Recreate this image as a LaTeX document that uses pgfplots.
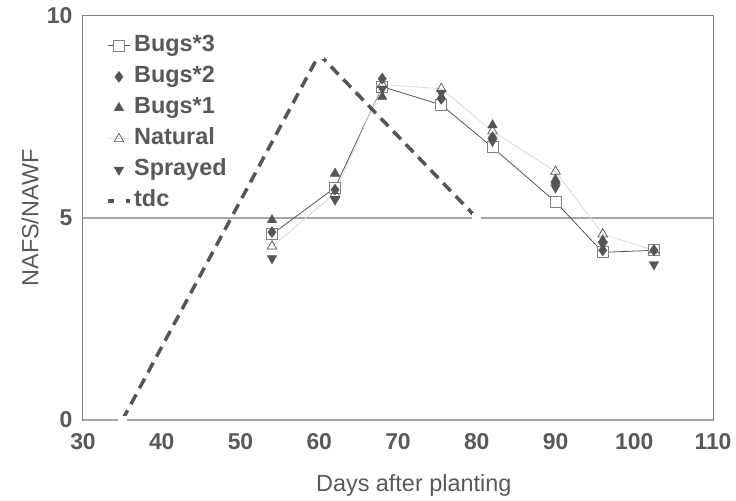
\documentclass[border=0pt]{standalone}
\usepackage{fontspec}
\setmainfont{Liberation Sans}
\usepackage{pgfplots}
\pgfplotsset{compat=1.18}

\definecolor{txt}{RGB}{89,89,89}
\definecolor{mk}{RGB}{85,85,85}
\definecolor{frame}{RGB}{128,128,128}
\definecolor{refl}{RGB}{166,166,166}
\definecolor{lightl}{RGB}{218,218,218}

\begin{document}
\begin{tikzpicture}
\path[use as bounding box] (-83bp,-81bp) rectangle (653bp,420bp);
\begin{axis}[
  at={(0,0)}, anchor=south west,
  scale only axis, width=630bp, height=404bp,
  xmin=30, xmax=110, ymin=0, ymax=10,
  xtick={30,40,...,110}, ytick={0,5,10},
  major tick length=0pt,
  axis line style={frame, line width=1bp},
  clip=false,
  tick label style={font=\bfseries\fontsize{23}{26}\selectfont, text=txt,
    /pgf/number format/assume math mode=true},
  xticklabel style={anchor=center, yshift=-22bp},
  yticklabel style={anchor=east, xshift=-7bp},
  every axis x label/.style={at={(axis description cs:0.525,-0.161)}, anchor=center,
    font=\fontsize{23.5}{26}\selectfont, text=txt},
  every axis y label/.style={at={(axis description cs:-0.084,0.5)}, anchor=center,
    rotate=90, font=\fontsize{23.5}{26}\selectfont, text=txt},
  xlabel={Days after planting}, ylabel={NAFS/NAWF},
  legend cell align=left,
  legend image code/.code={\draw[mark repeat=2,mark phase=2,#1]
    plot coordinates {(0bp,0bp)(11bp,0bp)(22bp,0bp)};},
  legend style={draw=none, fill=none, inner sep=0pt,
    at={(axis description cs:0.0365,0.96)}, anchor=north west,
    nodes={text height=17bp, text depth=5bp, inner sep=2.5bp},
    font=\bfseries\fontsize{23.5}{26}\selectfont, text=txt, row sep=4bp},
]
% reference lines at 0 and 5
\addplot[refl, line width=2bp, forget plot] coordinates {(30,0)(110,0)};
\addplot[refl, line width=2bp, forget plot] coordinates {(30,5)(110,5)};

% Bugs*3
\addplot[mk, line width=0.8bp, mark=square*, mark size=5.5bp,
  mark options={fill=white, draw=frame, line width=0.8bp}] coordinates {
  (54,4.6)(62,5.75)(68,8.25)(75.5,7.8)(82,6.75)(90,5.4)(96,4.15)(102.5,4.2)
};
\addlegendentry{Bugs*3}
% Bugs*2
\addplot[only marks, mk, mark=diamond*, mark size=5.5bp,
  mark options={fill=mk, draw=mk}] coordinates {
  (54,4.65)(62,5.7)(68,8.45)(75.5,7.95)(82,7.0)(90,5.85)(96,4.2)(102.5,4.2)
};
\addlegendentry{Bugs*2}
% Bugs*1
\addplot[only marks, mk, mark=triangle*, mark size=5.5bp,
  mark options={fill=mk, draw=mk}] coordinates {
  (54,4.95)(62,6.1)(68,8.0)(75.5,8.0)(82,7.3)(90,5.95)(96,4.45)
};
\addlegendentry{Bugs*1}
% Natural
\addplot[lightl, line width=0.8bp, mark=triangle, mark size=5.5bp,
  mark options={fill=white, draw=mk, line width=0.7bp}] coordinates {
  (54,4.3)(62,5.6)(68,8.3)(75.5,8.2)(82,7.15)(90,6.15)(96,4.6)(102.5,4.2)
};
\addlegendentry{Natural}
% Sprayed
\addplot[only marks, mk, mark=triangle*, mark size=5.5bp,
  mark options={fill=mk, draw=mk, rotate=180}] coordinates {
  (54,4.0)(62,5.45)(68,8.2)(75.5,8.1)(82,6.9)(90,5.75)(96,4.35)(102.5,3.85)
};
\addlegendentry{Sprayed}
% tdc
\addplot[mk, line width=3.5bp, dash pattern=on 11bp off 7bp, mark=square*,
  mark size=4bp, mark options={solid, fill=white, draw=white, line width=1bp}] coordinates {
  (35,0)(60,9.05)(80,5)
};
\addlegendentry{tdc}
\end{axis}
\end{tikzpicture}
\end{document}
